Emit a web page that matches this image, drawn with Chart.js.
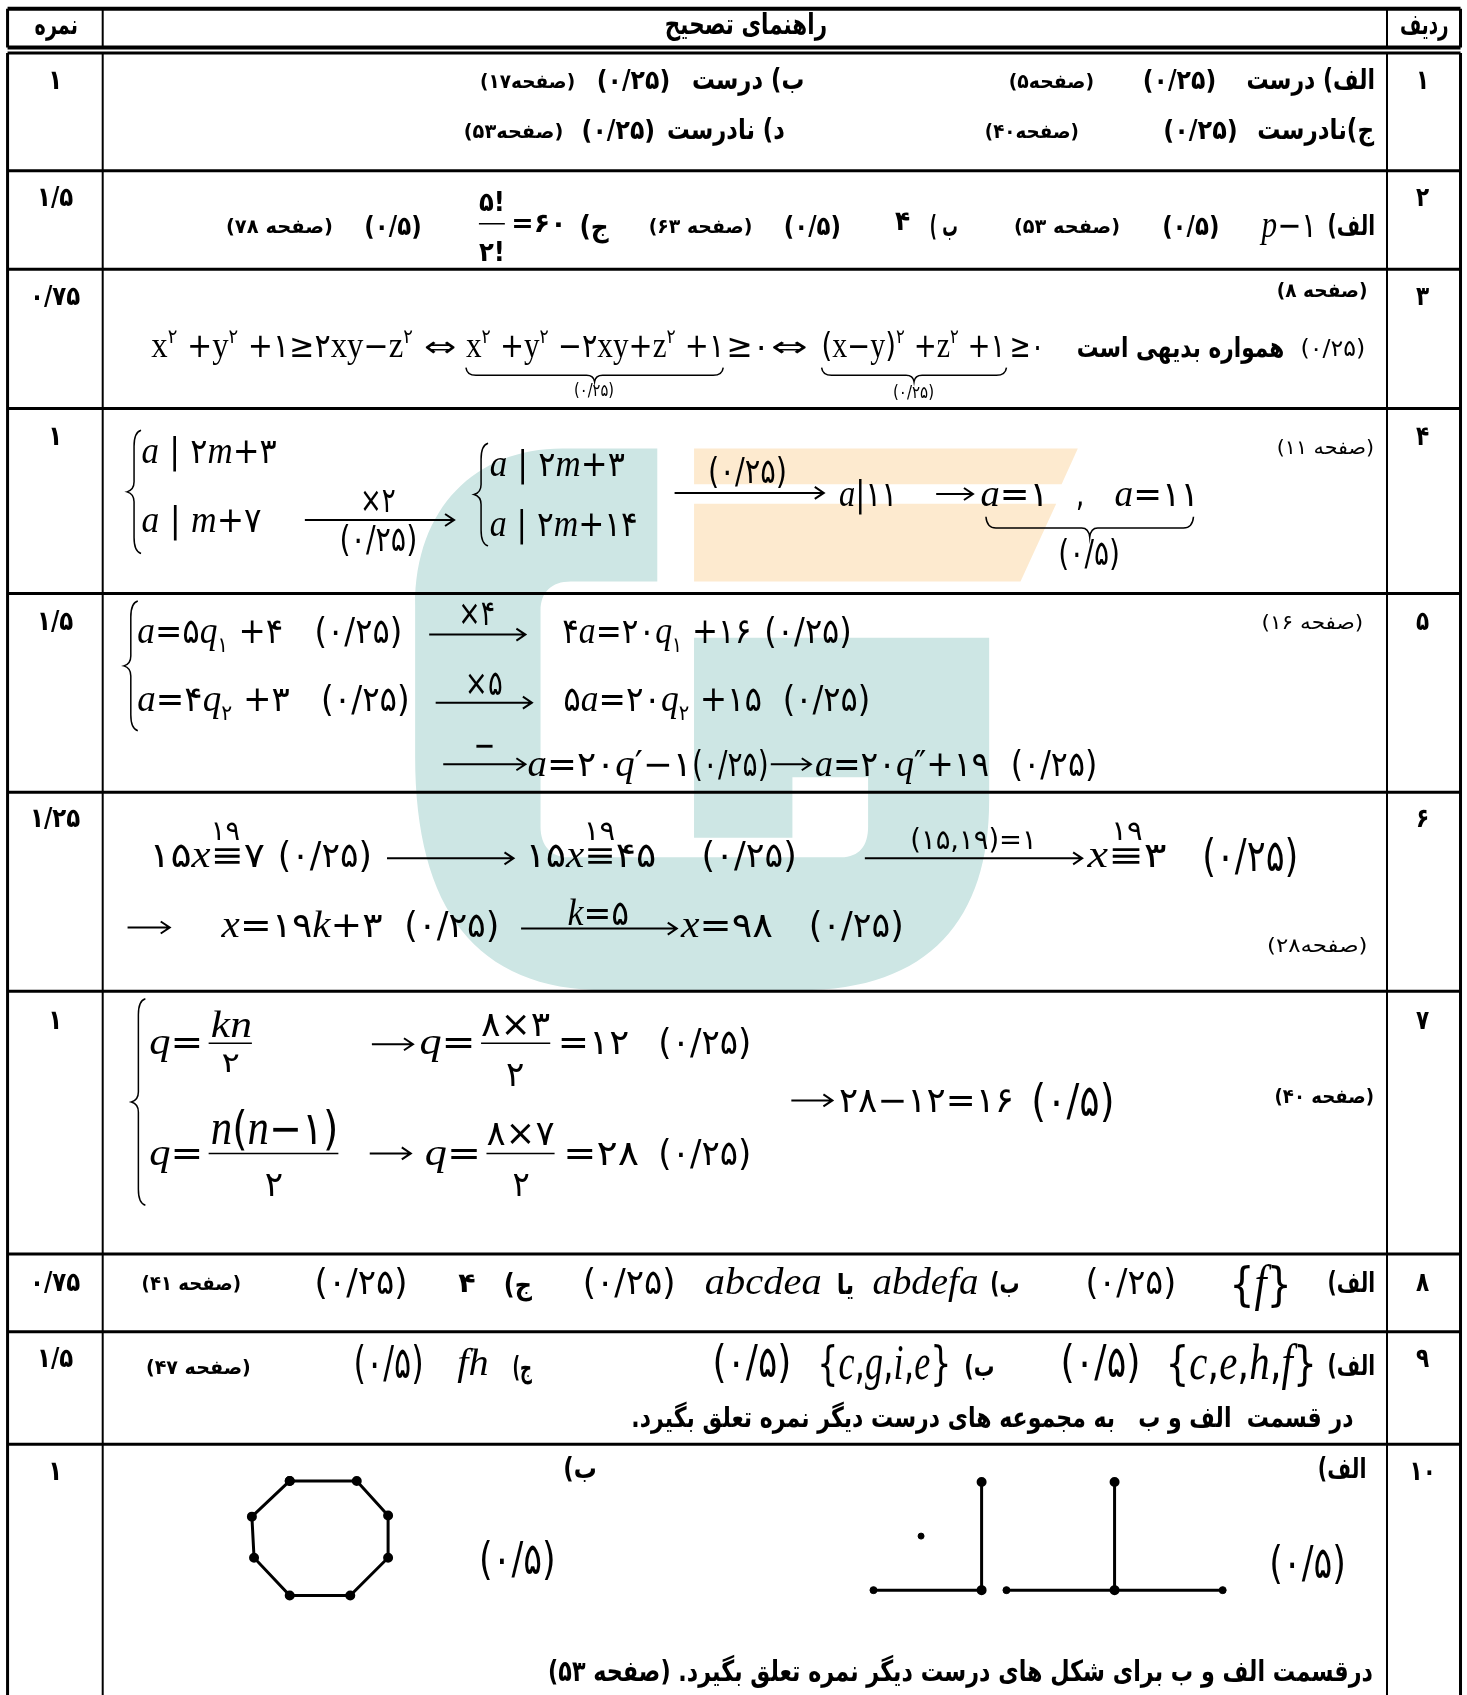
<!DOCTYPE html>
<html>
<head>
<meta charset="utf-8">
<title>راهنمای تصحیح</title>
<script src="https://cdn.jsdelivr.net/npm/chart.js@4/dist/chart.umd.min.js"></script>
<style>
  html, body { margin: 0; padding: 0; background: #fff; }
  canvas { display: block; }
</style>
</head>
<body>
<canvas id="sheet" width="1467" height="1695"></canvas>
<script>
// the scales run in the units of the picture I measured from (1357 x 1568)
const sheetW = 1357, sheetH = 1568;

const rowNumbers = ["۱", "۲", "۳", "۴", "۵", "۶", "۷", "۸", "۹", "۱۰"];
const rowScores = ["۱", "۱/۵", "۰/۷۵", "۱", "۱/۵", "۱/۲۵", "۱", "۰/۷۵", "۱/۵", "۱"];
const labelBaselines = [82, 191, 282, 412, 583, 765, 952, 1194, 1265, 1369];
const rowEdges = [49, 158, 249, 378, 549, 733, 917, 1160, 1232, 1336];
const columnEdges = [7, 95, 1283, 1351];

// row 10 graphs
const octagonX = [268, 330, 359, 359, 324, 268, 235, 233, 268];
const octagonY = [1370, 1370, 1402, 1441, 1476, 1476, 1441, 1403, 1370];
const stemsX = [908, 1031];
const stemTop = 1371, stemBottom = 1471;
const branchLeft = [808, 931], branchRight = [908, 1131];
const branchDotsX = [808, 908, 931, 1031, 1131];
const loneDot = { x: 852, y: 1421 };

const textStyles = {
  fa:  { font: 'bold 28px "DejaVu Sans"', rtl: true },
  big: { font: 'bold 29px "DejaVu Sans"', rtl: true },
  pg:  { font: 'bold 20px "DejaVu Sans"', rtl: true },
  pgl: { font: '20px "DejaVu Sans"', rtl: true },
  nb:  { font: 'bold 27px "DejaVu Sans"' },
  nr:  { font: '23px "DejaVu Sans"' },
  n:   { font: '35px "DejaVu Sans"' },
  nx:  { font: '44px "DejaVu Sans"' },
  ns:  { font: '17px "DejaVu Sans"' },
  m:   { math: 38 },
  ml:  { math: 50 },
  ms:  { math: 30 },
  mu:  { math: 36, upright: true }
};

// text, left, right, baseline, style
const answerTexts = [
  ["ردیف", 1295, 1340, 31, "fa"], ["راهنمای تصحیح", 615, 765, 31, "big"], ["نمره", 32, 72, 31, "fa"],
  // 1
  ["الف) درست", 1153, 1272, 82, "fa"], ["(۰/۲۵)", 1057, 1125, 82, "nb"], ["(صفحه۵)", 933, 1012, 81, "pg"],
  ["ب) درست", 640, 744, 82, "fa"], ["(۰/۲۵)", 552, 620, 82, "nb"], ["(صفحه۱۷)", 444, 532, 81, "pg"],
  ["ج)نادرست", 1163, 1271, 129, "fa"], ["(۰/۲۵)", 1076, 1145, 129, "nb"], ["(صفحه۴۰)", 911, 998, 128, "pg"],
  ["د) نادرست", 617, 726, 129, "fa"], ["(۰/۲۵)", 538, 606, 129, "nb"], ["(صفحه۵۳)", 429, 521, 128, "pg"],
  // 2
  ["الف)", 1228, 1272, 217, "fa"], ["p−۱", 1167, 1218, 219, "m"], ["(۰/۵)", 1075, 1128, 217, "nb"], ["(صفحه ۵۳)", 938, 1036, 216, "pg"],
  ["ب )", 860, 886, 218, "fa"], ["۴", 828, 842, 213, "nb"], ["(۰/۵)", 725, 778, 217, "nb"], ["(صفحه ۶۳)", 600, 696, 216, "pg"],
  ["ج)", 536, 563, 218, "fa"], ["=۶۰", 473, 524, 215, "nb"], ["۵!", 443, 467, 195, "nb"], ["۲!", 443, 467, 241, "nb"],
  ["(۰/۵)", 337, 390, 217, "nb"], ["(صفحه ۷۸)", 209, 308, 216, "pg"],
  // 3
  ["(صفحه ۸)", 1181, 1265, 275, "pg"], ["(۰/۲۵)", 1203, 1263, 329, "nr"], ["همواره بدیهی است", 996, 1188, 330, "fa"],
  ["x^۲ +y^۲ +۱≥۲xy−z^۲", 140, 382, 330, "mu"], ["⇔", 392, 422, 329, "ms"],
  ["x^۲ +y^۲ −۲xy+z^۲ +۱", 431, 670, 330, "mu"], ["≥۰", 672, 712, 330, "mu"], ["⇔", 713, 747, 329, "ms"],
  ["(x−y)^۲ +z^۲ +۱", 760, 930, 330, "mu"], ["≥۰", 934, 966, 330, "mu"],
  ["(۰/۲۵)", 531, 568, 366, "ns"], ["(۰/۲۵)", 826, 864, 368, "ns"],
  // 4
  ["(صفحه ۱۱)", 1181, 1271, 420, "pgl"],
  ["a | ۲m+۳", 131, 256, 428, "m"], ["a | m+۷", 131, 242, 492, "m"], ["×۲", 333, 366, 474, "n"], ["(۰/۲۵)", 314, 386, 510, "n"],
  ["a | ۲m+۳", 453, 578, 440, "m"], ["a | ۲m+۱۴", 453, 590, 496, "m"], ["(۰/۲۵)", 655, 728, 447, "n"],
  ["a|۱۱", 776, 830, 468, "m"], ["a=۱", 907, 970, 468, "m"], [",", 995, 1003, 468, "n"], ["a=۱۱", 1031, 1109, 468, "m"], ["(۰/۵)", 979, 1036, 523, "n"],
  // 5
  ["(صفحه ۱۶)", 1167, 1261, 582, "pgl"],
  ["a=۵q_۱ +۴", 127, 262, 595, "m"], ["(۰/۲۵)", 291, 372, 595, "n"], ["×۴", 424, 458, 578, "n"], ["۴a=۲۰q_۱ +۱۶", 520, 695, 595, "m"], ["(۰/۲۵)", 707, 788, 595, "n"],
  ["a=۴q_۲ +۳", 127, 268, 658, "m"], ["(۰/۲۵)", 297, 379, 658, "n"], ["×۵", 430, 465, 643, "n"], ["۵a=۲۰q_۲ +۱۵", 521, 705, 658, "m"], ["(۰/۲۵)", 724, 805, 658, "n"],
  ["−", 438, 458, 700, "n"], ["a=۲۰q′−۱", 488, 640, 718, "m"], ["(۰/۲۵)", 640, 711, 718, "n"], ["a=۲۰q″+۱۹", 754, 915, 718, "m"], ["(۰/۲۵)", 935, 1015, 718, "n"],
  // 6
  ["۱۹", 195, 222, 777, "ms"], ["۱۵x≡۷", 138, 245, 802, "m"], ["(۰/۲۵)", 257, 344, 802, "n"],
  ["۱۹", 540, 569, 777, "ms"], ["۱۵x≡۴۵", 486, 607, 802, "m"], ["(۰/۲۵)", 649, 737, 802, "n"],
  ["(۱۵,۱۹)=۱", 842, 959, 785, "ms"], ["۱۹", 1028, 1057, 777, "ms"], ["x≡۳", 1006, 1079, 802, "m"], ["(۰/۲۵)", 1112, 1201, 806, "nx"],
  ["x=۱۹k+۳", 205, 354, 867, "m"], ["(۰/۲۵)", 374, 462, 867, "n"], ["k=۵", 525, 582, 856, "m"],
  ["x=۹۸", 630, 715, 867, "m"], ["(۰/۲۵)", 748, 836, 867, "n"], ["(صفحه۲۸)", 1172, 1265, 881, "pgl"],
  // 7
  ["(صفحه ۴۰)", 1179, 1271, 1020, "pg"],
  ["q=", 138, 188, 975, "m"], ["kn", 195, 233, 959, "m"], ["۲", 205, 222, 992, "ms"],
  ["q=", 388, 440, 975, "m"], ["۸×۳", 445, 509, 958, "m"], ["۲", 468, 485, 1005, "m"], ["=۱۲", 516, 582, 975, "m"], ["(۰/۲۵)", 609, 695, 975, "n"],
  ["۲۸−۱۲=۱۶", 776, 938, 1029, "m"], ["(۰/۵)", 954, 1031, 1032, "nx"],
  ["q=", 138, 188, 1078, "m"], ["n(n−۱)", 195, 313, 1058, "ml"], ["۲", 245, 262, 1106, "m"],
  ["q=", 393, 445, 1078, "m"], ["۸×۷", 450, 513, 1059, "m"], ["۲", 474, 490, 1106, "m"], ["=۲۸", 521, 591, 1078, "m"], ["(۰/۲۵)", 609, 695, 1078, "n"],
  // 8
  ["الف)", 1228, 1272, 1195, "fa"], ["{f}", 1137, 1195, 1203, "ml"], ["(۰/۲۵)", 1004, 1088, 1197, "n"],
  ["ب)", 916, 943, 1196, "fa"], ["abdefa", 807, 905, 1197, "m"], ["یا", 774, 790, 1197, "fa"], ["abcdea", 652, 760, 1197, "m"],
  ["(۰/۲۵)", 539, 625, 1197, "n"], ["ج)", 466, 492, 1197, "fa"], ["۴", 424, 440, 1195, "nb"], ["(۰/۲۵)", 291, 377, 1197, "n"], ["(صفحه ۴۱)", 131, 223, 1193, "pg"],
  // 9
  ["الف)", 1228, 1272, 1272, "fa"], ["{c,e,h,f}", 1078, 1218, 1276, "ml"], ["(۰/۵)", 981, 1055, 1274, "nx"],
  ["ب)", 892, 920, 1273, "fa"], ["{c,g,i,e}", 756, 880, 1276, "ml"], ["(۰/۵)", 659, 732, 1274, "nx"],
  ["ج)", 474, 492, 1274, "fa"], ["fh", 423, 452, 1272, "m"], ["(۰/۵)", 327, 392, 1275, "nx"], ["(صفحه ۴۷)", 135, 232, 1271, "pg"],
  ["در قسمت  الف و ب   به مجموعه های درست دیگر نمره تعلق بگیرد.", 584, 1252, 1320, "fa"],
  // 10
  ["الف)", 1219, 1264, 1367, "fa"], ["ب)", 521, 552, 1367, "fa"], ["(۰/۵)", 1174, 1245, 1460, "nx"], ["(۰/۵)", 443, 514, 1456, "nx"],
  ["درقسمت الف و ب برای شکل های درست دیگر نمره تعلق بگیرد. (صفحه ۵۳)", 507, 1270, 1555, "big"]
];

const arrows = [[282, 420, 481], [624, 762, 456], [866, 900, 457], [397, 486, 587], [403, 492, 650], [410, 486, 707], [713, 750, 707],
  [358, 475, 794], [800, 1001, 794], [118, 157, 858], [482, 626, 859], [344, 382, 966], [732, 770, 1018], [342, 380, 1067]];
const fractionBars = [[443, 467, 207], [193, 233, 965], [445, 509, 965], [193, 313, 1067], [450, 513, 1067]];
const leftBraces = [[124, 398, 512], [445, 410, 505], [121, 556, 676], [128, 924, 1115]];
const underBraces = [[431, 669, 340, 353], [760, 931, 340, 353], [912, 1104, 478, 497]];

function segment(x1, y1, x2, y2, width) {
  return { type: "line", data: [{ x: x1, y: y1 }, { x: x2, y: y2 }], borderColor: "#000", borderWidth: width, pointRadius: 0, clip: false };
}

const datasets = [];
// table rules
[8, 44].forEach(y => datasets.push(segment(columnEdges[0], y, columnEdges[3], y, 4)));
rowEdges.forEach(y => datasets.push(segment(columnEdges[0], y, columnEdges[3], y, 3)));
columnEdges.forEach((x, i) => {
  const w = (i === 0 || i === 3) ? 3 : 2;
  datasets.push(segment(x, 8, x, 44, w));
  datasets.push(segment(x, rowEdges[0], x, sheetH, w));
});
// graphs of row 10
const graphLine = { type: "line", borderColor: "#000", borderWidth: 3, pointRadius: 3.5, pointBackgroundColor: "#000", pointBorderColor: "#000", tension: 0 };
datasets.push({ ...graphLine, data: octagonX.map((x, i) => ({ x: x, y: octagonY[i] })) });
stemsX.forEach(x => datasets.push({ ...graphLine, data: [{ x: x, y: stemTop }, { x: x, y: stemBottom }] }));
branchLeft.forEach((x, i) => datasets.push({ ...graphLine, pointRadius: 0, data: [{ x: x, y: stemBottom }, { x: branchRight[i], y: stemBottom }] }));
datasets.push({ type: "scatter", data: branchDotsX.map(x => ({ x: x, y: stemBottom })), pointRadius: 3.5, pointBackgroundColor: "#000", pointBorderColor: "#000" });
datasets.push({ type: "scatter", data: [loneDot], pointRadius: 3, pointBackgroundColor: "#000", pointBorderColor: "#000" });

// pale logo behind the table
const watermark = {
  id: "watermark",
  beforeDatasetsDraw(chart) {
    const X = v => chart.scales.x.getPixelForValue(v), Y = v => chart.scales.y.getPixelForValue(v);
    const c = chart.ctx;
    const poly = pts => { c.beginPath(); pts.forEach((p, i) => i ? c.lineTo(X(p[0]), Y(p[1])) : c.moveTo(X(p[0]), Y(p[1]))); c.closePath(); c.fill(); };
    const curve = (a, b, d, e, f, g) => c.bezierCurveTo(X(a), Y(b), X(d), Y(e), X(f), Y(g));
    c.save();
    c.fillStyle = "#fdeacf";
    poly([[642, 415], [997, 415], [982, 448], [642, 448]]);
    poly([[642, 466], [977, 466], [944, 538], [642, 538]]);
    c.fillStyle = "#cde6e4";
    c.beginPath();
    c.moveTo(X(608), Y(415));
    c.lineTo(X(520), Y(415));
    curve(440, 415, 384, 470, 384, 560);
    c.lineTo(X(384), Y(700));
    curve(384, 840, 440, 916, 560, 916);
    c.lineTo(X(740), Y(916));
    curve(860, 916, 915, 850, 915, 740);
    c.lineTo(X(915), Y(590));
    c.lineTo(X(642), Y(590));
    c.lineTo(X(642), Y(775));
    c.lineTo(X(733), Y(775));
    c.lineTo(X(733), Y(719));
    c.lineTo(X(803), Y(719));
    c.lineTo(X(803), Y(765));
    curve(803, 782, 795, 793, 778, 793);
    c.lineTo(X(525), Y(793));
    curve(510, 793, 500, 782, 500, 765);
    c.lineTo(X(500), Y(565));
    curve(500, 548, 510, 538, 528, 538);
    c.lineTo(X(608), Y(538));
    c.closePath();
    c.fill();
    c.restore();
  }
};

// splits "x^۲" style strings into runs, latin letters italic unless upright
function mathRuns(text, style) {
  const size = style.math;
  return (text.match(/\^.|_.|[a-z]+|[^\^_a-z]+/g) || []).map(tok => {
    if (tok[0] === "^") return { s: tok[1], font: (size * 0.55) + 'px "DejaVu Sans"', dy: -size * 0.38 };
    if (tok[0] === "_") return { s: tok[1], font: (size * 0.55) + 'px "DejaVu Sans"', dy: size * 0.22 };
    if (/^[a-z]/.test(tok)) return { s: tok, font: (style.upright ? "" : "italic ") + size + 'px "Liberation Serif"', dy: 0 };
    return { s: tok, font: (size * 0.92) + 'px "DejaVu Sans"', dy: 0 };
  });
}

const writing = {
  id: "writing",
  afterDatasetsDraw(chart) {
    const X = v => chart.scales.x.getPixelForValue(v), Y = v => chart.scales.y.getPixelForValue(v);
    const c = chart.ctx;
    c.save();
    c.fillStyle = "#000";
    c.textBaseline = "alphabetic";
    c.textAlign = "left";

    answerTexts.forEach(item => {
      const style = textStyles[item[4]];
      const left = X(item[1]), right = X(item[2]), base = Y(item[3]);
      c.save();
      if (style.math) {
        const runs = mathRuns(item[0], style);
        let total = 0;
        runs.forEach(r => { c.font = r.font; r.w = c.measureText(r.s).width; total += r.w; });
        c.translate(left, base);
        c.scale((right - left) / total, 1);
        let at = 0;
        runs.forEach(r => { c.font = r.font; c.fillText(r.s, at, r.dy); at += r.w; });
      } else {
        c.direction = style.rtl ? "rtl" : "ltr";
        c.font = style.font;
        const w = c.measureText(item[0]).width;
        c.translate(left, base);
        c.scale((right - left) / w, 1);
        c.fillText(item[0], 0, 0);
      }
      c.restore();
    });

    // row number and score columns
    c.textAlign = "center";
    c.font = 'bold 27px "DejaVu Sans"';
    rowNumbers.forEach((label, i) => {
      c.save();
      c.translate(X(1316), Y(labelBaselines[i]));
      c.scale(0.8, 1);
      c.fillText(label, 0, 0);
      c.restore();
    });
    rowScores.forEach((label, i) => {
      c.save();
      c.translate(X(51), Y(labelBaselines[i]));
      c.scale(0.85, 1);
      c.fillText(label, 0, 0);
      c.restore();
    });

    // arrows, fraction bars, braces
    c.strokeStyle = "#000";
    c.lineWidth = 2;
    arrows.forEach(a => {
      const x1 = X(a[0]), x2 = X(a[1]), y = Y(a[2]);
      c.beginPath();
      c.moveTo(x1, y); c.lineTo(x2, y);
      c.moveTo(x2 - 9, y - 6); c.lineTo(x2, y); c.lineTo(x2 - 9, y + 6);
      c.stroke();
    });
    c.lineWidth = 1.5;
    fractionBars.forEach(b => {
      c.beginPath();
      c.moveTo(X(b[0]), Y(b[2])); c.lineTo(X(b[1]), Y(b[2]));
      c.stroke();
    });
    leftBraces.forEach(b => {
      const x = X(b[0]), t = Y(b[1]), h = Y(b[2]), mid = (t + h) / 2;
      c.beginPath();
      c.moveTo(x + 7, t);
      c.quadraticCurveTo(x, t + 2, x, t + 16);
      c.lineTo(x, mid - 10);
      c.quadraticCurveTo(x, mid - 2, x - 7, mid);
      c.quadraticCurveTo(x, mid + 2, x, mid + 10);
      c.lineTo(x, h - 16);
      c.quadraticCurveTo(x, h - 2, x + 7, h);
      c.stroke();
    });
    underBraces.forEach(b => {
      const x1 = X(b[0]), x2 = X(b[1]), t = Y(b[2]), tip = Y(b[3]), mid = (x1 + x2) / 2, low = t + (tip - t) * 0.55;
      c.beginPath();
      c.moveTo(x1, t);
      c.quadraticCurveTo(x1 + 1, low, x1 + 10, low);
      c.lineTo(mid - 8, low);
      c.quadraticCurveTo(mid - 1, low, mid, tip);
      c.quadraticCurveTo(mid + 1, low, mid + 8, low);
      c.lineTo(x2 - 10, low);
      c.quadraticCurveTo(x2 - 1, low, x2, t);
      c.stroke();
    });
    c.restore();
  }
};

const ctx = document.getElementById("sheet").getContext("2d");
const sheetChart = new Chart(ctx, {
  type: "scatter",
  data: { datasets: datasets },
  plugins: [watermark, writing],
  options: {
    responsive: false,
    animation: false,
    events: [],
    layout: { padding: 0, autoPadding: false },
    plugins: { legend: { display: false }, tooltip: { enabled: false } },
    scales: {
      x: { type: "linear", display: false, min: 0, max: sheetW },
      y: { type: "linear", display: false, min: 0, max: sheetH, reverse: true }
    }
  }
});
</script>
</body>
</html>
